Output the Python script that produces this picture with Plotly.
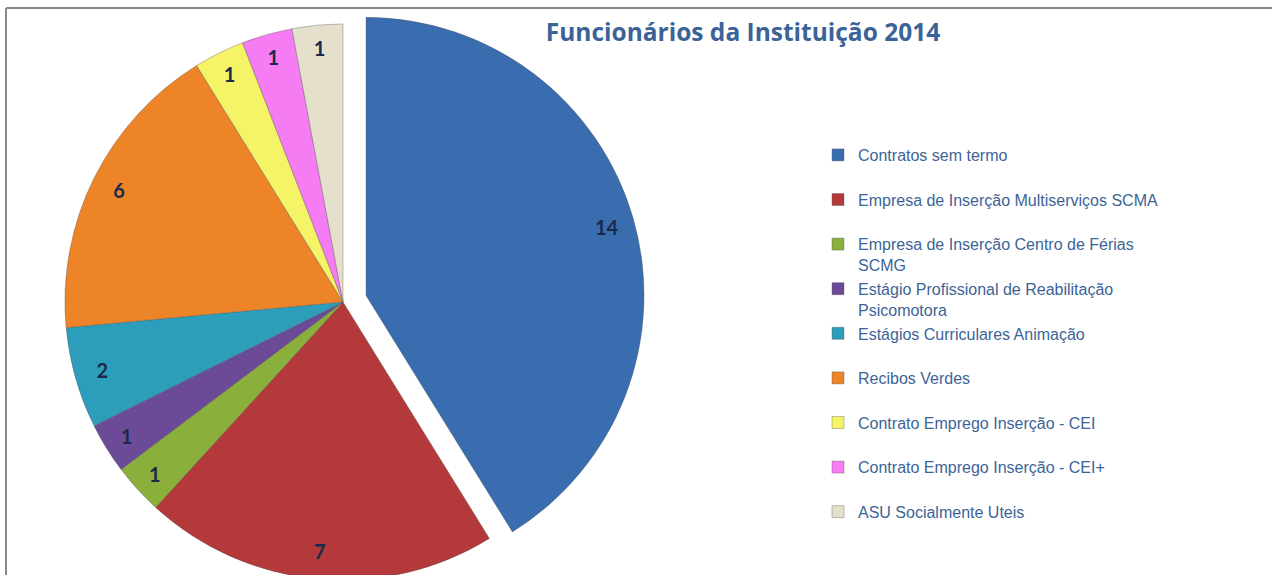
import plotly.graph_objects as go

# ---- data ----
categories = [
    "Contratos sem termo",
    "Empresa de Inserção Multiserviços SCMA",
    "Empresa de Inserção Centro de Férias<br>SCMG",
    "Estágio Profissional de Reabilitação<br>Psicomotora",
    "Estágios Curriculares Animação",
    "Recibos Verdes",
    "Contrato Emprego Inserção - CEI",
    "Contrato Emprego Inserção - CEI+",
    "ASU Socialmente Uteis",
]
values = [14, 7, 1, 1, 2, 6, 1, 1, 1]
colors = ["#3A6CB0", "#B3393A", "#8AAF3B", "#6B4A98", "#2C9DBA",
          "#EE8428", "#F4F466", "#F57CF2", "#E4E0CC"]
pulls = [0.086, 0, 0, 0, 0, 0, 0, 0, 0]
title_text = "Funcionários da Instituição 2014"

# ---- layout geometry ----
W, H = 1272, 610
cx, cy, half = 343, 302, 302  # pie box center and half size (px)
dom_x = [(cx - half) / W, (cx + half) / W]
dom_y = [1 - (cy + half) / H, 1 - (cy - half) / H]

# legend labels: pad single-line entries to two lines for uniform spacing
legend_labels = [c if "<br>" in c else c + "<br> " for c in categories]

fig = go.Figure()
fig.add_trace(go.Pie(
    labels=legend_labels, values=values, sort=False, direction="clockwise",
    marker=dict(colors=colors, line=dict(width=0.6, color="rgba(80,80,80,0.6)")),
    pull=pulls, textinfo="none", domain=dict(x=dom_x, y=dom_y),
    hoverinfo="label+value", showlegend=True,
))
# text ring (transparent) so labels sit near the rim
fig.add_trace(go.Pie(
    labels=legend_labels, values=values, sort=False, direction="clockwise",
    marker=dict(colors=["rgba(0,0,0,0)"] * len(values), line=dict(width=0)),
    pull=pulls, hole=0.80, textinfo="value", textposition="inside",
    insidetextorientation="horizontal",
    textfont=dict(family="Lato", size=20, color="#1B2A4A", weight="bold"),
    domain=dict(x=dom_x, y=dom_y), hoverinfo="skip", showlegend=False,
))

fig.update_layout(
    width=W, height=H,
    margin=dict(l=0, r=0, t=0, b=0),
    paper_bgcolor="white", plot_bgcolor="white",
    title=dict(text=title_text, x=743 / W, xanchor="center",
               y=1 - 32 / H, yanchor="middle", yref="container",
               font=dict(family="Open Sans", size=24.5, color="#3B6397", weight="bold")),
    legend=dict(x=818 / W, xanchor="left", y=1 - 138 / H, yanchor="top",
                font=dict(family="Liberation Sans, Arial", size=16, color="#3D6497"),
                valign="top", bgcolor="rgba(0,0,0,0)", traceorder="normal"),
    shapes=[
        dict(type="line", xref="paper", yref="paper", x0=6 / W, x1=1.01,
             y0=1 - 8 / H, y1=1 - 8 / H, line=dict(color="#8A8A8A", width=2)),
        dict(type="line", xref="paper", yref="paper", x0=6 / W, x1=6 / W,
             y0=-0.05, y1=1 - 8 / H, line=dict(color="#8A8A8A", width=2)),
    ],
)

fig.write_html(
    "out.html",
    config={"displayModeBar": False},
    post_script="document.body.style.margin='0';document.body.style.overflow='hidden';"
                "document.documentElement.style.overflow='hidden';",
)
